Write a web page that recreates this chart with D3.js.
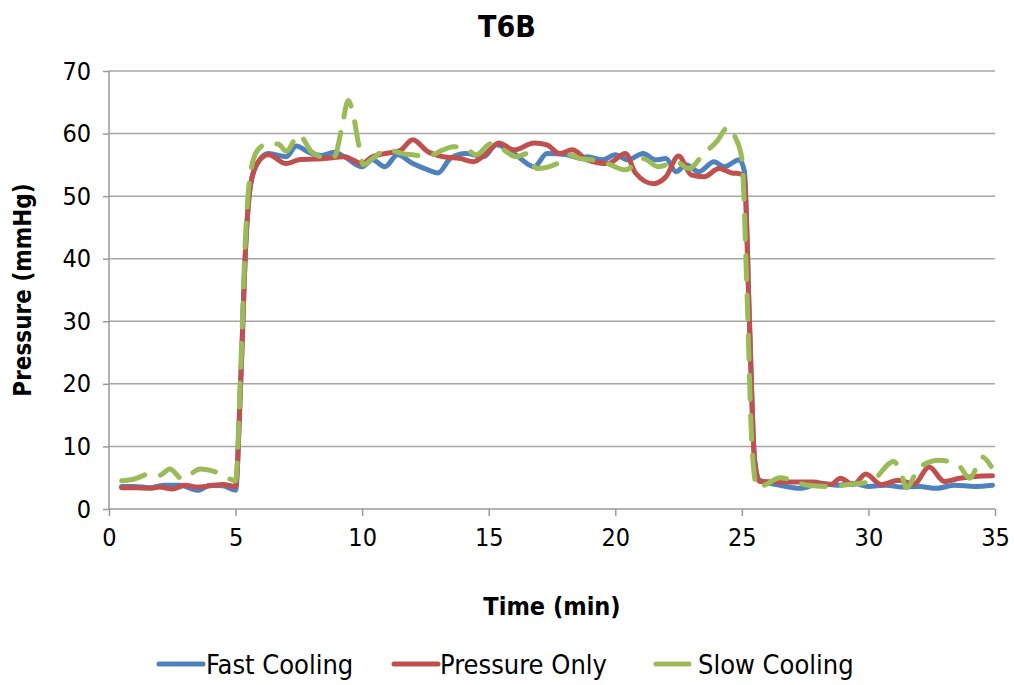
<!DOCTYPE html>
<html>
<head>
<meta charset="utf-8">
<script src="https://cdn.jsdelivr.net/npm/d3@7"></script>
<style>
  body { margin: 0; background: #fff; }
  svg text { font-family: "DejaVu Sans Condensed", "DejaVu Sans", sans-serif; fill: #000; }
</style>
</head>
<body>
<svg width="1014" height="685"></svg>
<script>
// time (min) and pressure (mmHg)
var fastTime = [0.5, 1.0, 1.6, 2.2, 2.8, 3.5, 4.0, 4.5, 5.0, 5.2, 5.4, 5.6, 5.9, 6.3, 7.0, 7.4, 7.9, 8.4, 8.9, 9.3, 10.0, 10.4, 10.9, 11.4, 12.0, 12.6, 13.0, 13.5, 14.1, 14.8, 15.3, 16.0, 16.8, 17.3, 18.1, 18.6, 18.9, 19.5, 20.0, 20.5, 21.1, 21.6, 22.0, 22.4, 22.8, 23.3, 23.9, 24.3, 24.9, 25.1, 25.3, 25.5, 25.7, 26.5, 27.3, 28.1, 28.8, 29.4, 30.0, 30.7, 31.3, 32.0, 32.7, 33.4, 34.2, 34.9];
var fastPressure = [3.6, 3.6, 3.4, 3.8, 3.8, 3.0, 3.8, 3.7, 3.0, 20, 42, 52, 55.5, 56.8, 56.3, 58.0, 57.0, 56.5, 57.0, 56.3, 54.7, 55.8, 54.7, 56.6, 55.2, 54.2, 53.7, 56.1, 56.8, 56.3, 58.2, 56.8, 54.7, 56.8, 56.6, 56.1, 56.3, 55.8, 56.6, 55.8, 56.8, 55.8, 56.0, 53.9, 55.0, 53.9, 55.5, 54.7, 55.8, 54, 30, 8, 4.6, 3.8, 3.3, 4.1, 3.8, 4.1, 3.6, 3.8, 3.5, 3.6, 3.3, 3.8, 3.6, 3.8];

var pressTime = [0.5, 1.0, 1.6, 2.0, 2.5, 3.0, 3.5, 4.0, 4.5, 5.0, 5.2, 5.4, 5.6, 5.9, 6.3, 7.0, 7.5, 8.5, 9.3, 10.0, 10.4, 10.9, 11.5, 12.0, 12.6, 13.2, 13.9, 14.4, 14.9, 15.4, 16.0, 16.8, 17.3, 17.8, 18.3, 18.9, 19.7, 20.4, 20.8, 21.5, 22.0, 22.5, 23.0, 23.5, 24.1, 24.6, 24.9, 25.1, 25.3, 25.5, 25.7, 26.8, 27.8, 28.5, 28.9, 29.4, 29.9, 30.5, 31.2, 31.8, 32.4, 33.0, 33.6, 34.2, 34.9];
var pressPressure = [3.4, 3.4, 3.3, 3.5, 3.2, 3.8, 3.5, 3.7, 3.9, 3.6, 20, 42, 52, 55.5, 56.6, 55.2, 55.8, 56.0, 56.3, 55.2, 56.3, 56.8, 57.3, 59.0, 57.1, 56.3, 56.0, 55.5, 56.8, 58.5, 57.4, 58.5, 58.2, 56.8, 57.4, 55.8, 55.2, 56.8, 53.7, 52.0, 53.1, 56.4, 53.4, 53.1, 54.4, 53.7, 53.6, 53, 30, 8, 4.4, 4.3, 4.3, 3.9, 4.9, 3.9, 5.6, 3.9, 4.6, 4.0, 6.7, 4.4, 4.9, 5.2, 5.3];

var slowTime = [0.5, 1.0, 1.6, 2.0, 2.4, 2.9, 3.6, 4.3, 4.9, 5.0, 5.2, 5.4, 5.6, 5.9, 6.3, 6.7, 7.0, 7.5, 8.0, 8.4, 8.9, 9.2, 9.45, 9.65, 9.85, 10.05, 10.4, 11.0, 11.6, 12.0, 12.6, 13.2, 13.6, 14.1, 14.5, 15.1, 15.4, 16.1, 16.5, 16.9, 17.7, 18.2, 18.6, 19.1, 19.7, 20.4, 21.1, 21.7, 22.4, 22.9, 23.5, 24.0, 24.45, 24.75, 25.0, 25.2, 25.4, 25.6, 25.9, 26.5, 27.6, 28.4, 29.2, 30.1, 31.0, 31.3, 31.5, 32.0, 32.8, 33.6, 34.0, 34.5, 34.85];
var slowPressure = [4.5, 4.8, 5.6, 5.4, 6.4, 4.8, 6.4, 5.8, 4.6, 4.5, 22, 44, 54, 57.5, 58.4, 58.3, 57.2, 59.8, 57.1, 56.3, 56.3, 61.0, 65.3, 63.0, 58.5, 55.0, 56.0, 57.4, 56.8, 56.6, 56.4, 57.4, 57.9, 57.6, 56.6, 58.4, 57.9, 56.3, 56.8, 54.4, 55.2, 56.6, 56.0, 55.8, 55.2, 54.2, 56.0, 54.7, 55.5, 54.4, 56.8, 58.7, 61.0, 59.3, 56, 35, 10, 3.5, 3.8, 5.0, 3.8, 3.6, 3.9, 4.4, 7.6, 5.6, 3.4, 6.6, 7.8, 6.8, 4.9, 8.3, 6.8];

var seriesNames = ["Fast Cooling", "Pressure Only", "Slow Cooling"];
var seriesColors = ["#4f81bd", "#c0504d", "#9bbb59"];
var xTicks = [0, 5, 10, 15, 20, 25, 30, 35];
var yTicks = [0, 10, 20, 30, 40, 50, 60, 70];

var svg = d3.select("svg"),
    margin = {top: 71, right: 19, bottom: 176, left: 109},
    width = +svg.attr("width") - margin.left - margin.right,
    height = +svg.attr("height") - margin.top - margin.bottom,
    g = svg.append("g").attr("transform", "translate(" + margin.left + "," + margin.top + ")");

var x = d3.scaleLinear().domain([0, 35]).range([0, width]);
var y = d3.scaleLinear().domain([0, 70]).range([height, 0]);

// gridlines
g.append("g")
    .selectAll("line")
    .data(yTicks.slice(1))
  .enter().append("line")
    .attr("x1", 0).attr("x2", width)
    .attr("y1", function(d) { return y(d); })
    .attr("y2", function(d) { return y(d); })
    .attr("stroke", "#a6a6a6")
    .attr("stroke-width", 1.5);

var yAxis = g.append("g")
    .call(d3.axisLeft(y).tickValues(yTicks).tickSize(6).tickPadding(12));
var xAxis = g.append("g")
    .attr("transform", "translate(0," + height + ")")
    .call(d3.axisBottom(x).tickValues(xTicks).tickSize(7).tickPadding(12));

[yAxis, xAxis].forEach(function(a) {
  a.selectAll("path, line").attr("stroke", "#9a9a9a").attr("stroke-width", 1.5);
  a.selectAll("text").style("font-size", "25px");
});
yAxis.select(".domain").attr("d", "M0," + height + "V0");
xAxis.select(".domain").attr("d", "M0,0H" + width);

var line = d3.line()
    .x(function(d) { return x(d[0]); })
    .y(function(d) { return y(d[1]); })
    .curve(d3.curveMonotoneX);

var series = [
  d3.zip(fastTime, fastPressure),
  d3.zip(pressTime, pressPressure),
  d3.zip(slowTime, slowPressure)
];

series.forEach(function(s, i) {
  g.append("path")
      .datum(s)
      .attr("fill", "none")
      .attr("stroke", seriesColors[i])
      .attr("stroke-width", 5)
      .attr("stroke-linecap", "round")
      .attr("stroke-linejoin", "round")
      .attr("stroke-dasharray", i == 2 ? "24,16" : null)
      .attr("d", line);
});

// title and axis titles
svg.append("text")
    .attr("x", 507).attr("y", 37)
    .attr("text-anchor", "middle")
    .style("font-size", "30px").style("font-weight", "bold")
    .text("T6B");

svg.append("text")
    .attr("x", 552).attr("y", 615)
    .attr("text-anchor", "middle")
    .style("font-size", "25px").style("font-weight", "bold")
    .text("Time (min)");

svg.append("text")
    .attr("transform", "translate(31,290) rotate(-90)")
    .attr("text-anchor", "middle")
    .style("font-size", "24px").style("font-weight", "bold")
    .text("Pressure (mmHg)");

// legend: swatch start, text start
var legendX = [159, 394, 656];
var legendText = [206, 440, 698];
var legend = svg.append("g");
seriesNames.forEach(function(name, i) {
  var lx = legendX[i];
  legend.append("line")
      .attr("x1", lx).attr("x2", i == 2 ? lx + 33 : lx + 44)
      .attr("y1", 664).attr("y2", 664)
      .attr("stroke", seriesColors[i])
      .attr("stroke-width", 5)
      .attr("stroke-linecap", "round");
  legend.append("text")
      .attr("x", legendText[i]).attr("y", 674)
      .style("font-size", "27px")
      .text(name);
});
</script>
</body>
</html>
